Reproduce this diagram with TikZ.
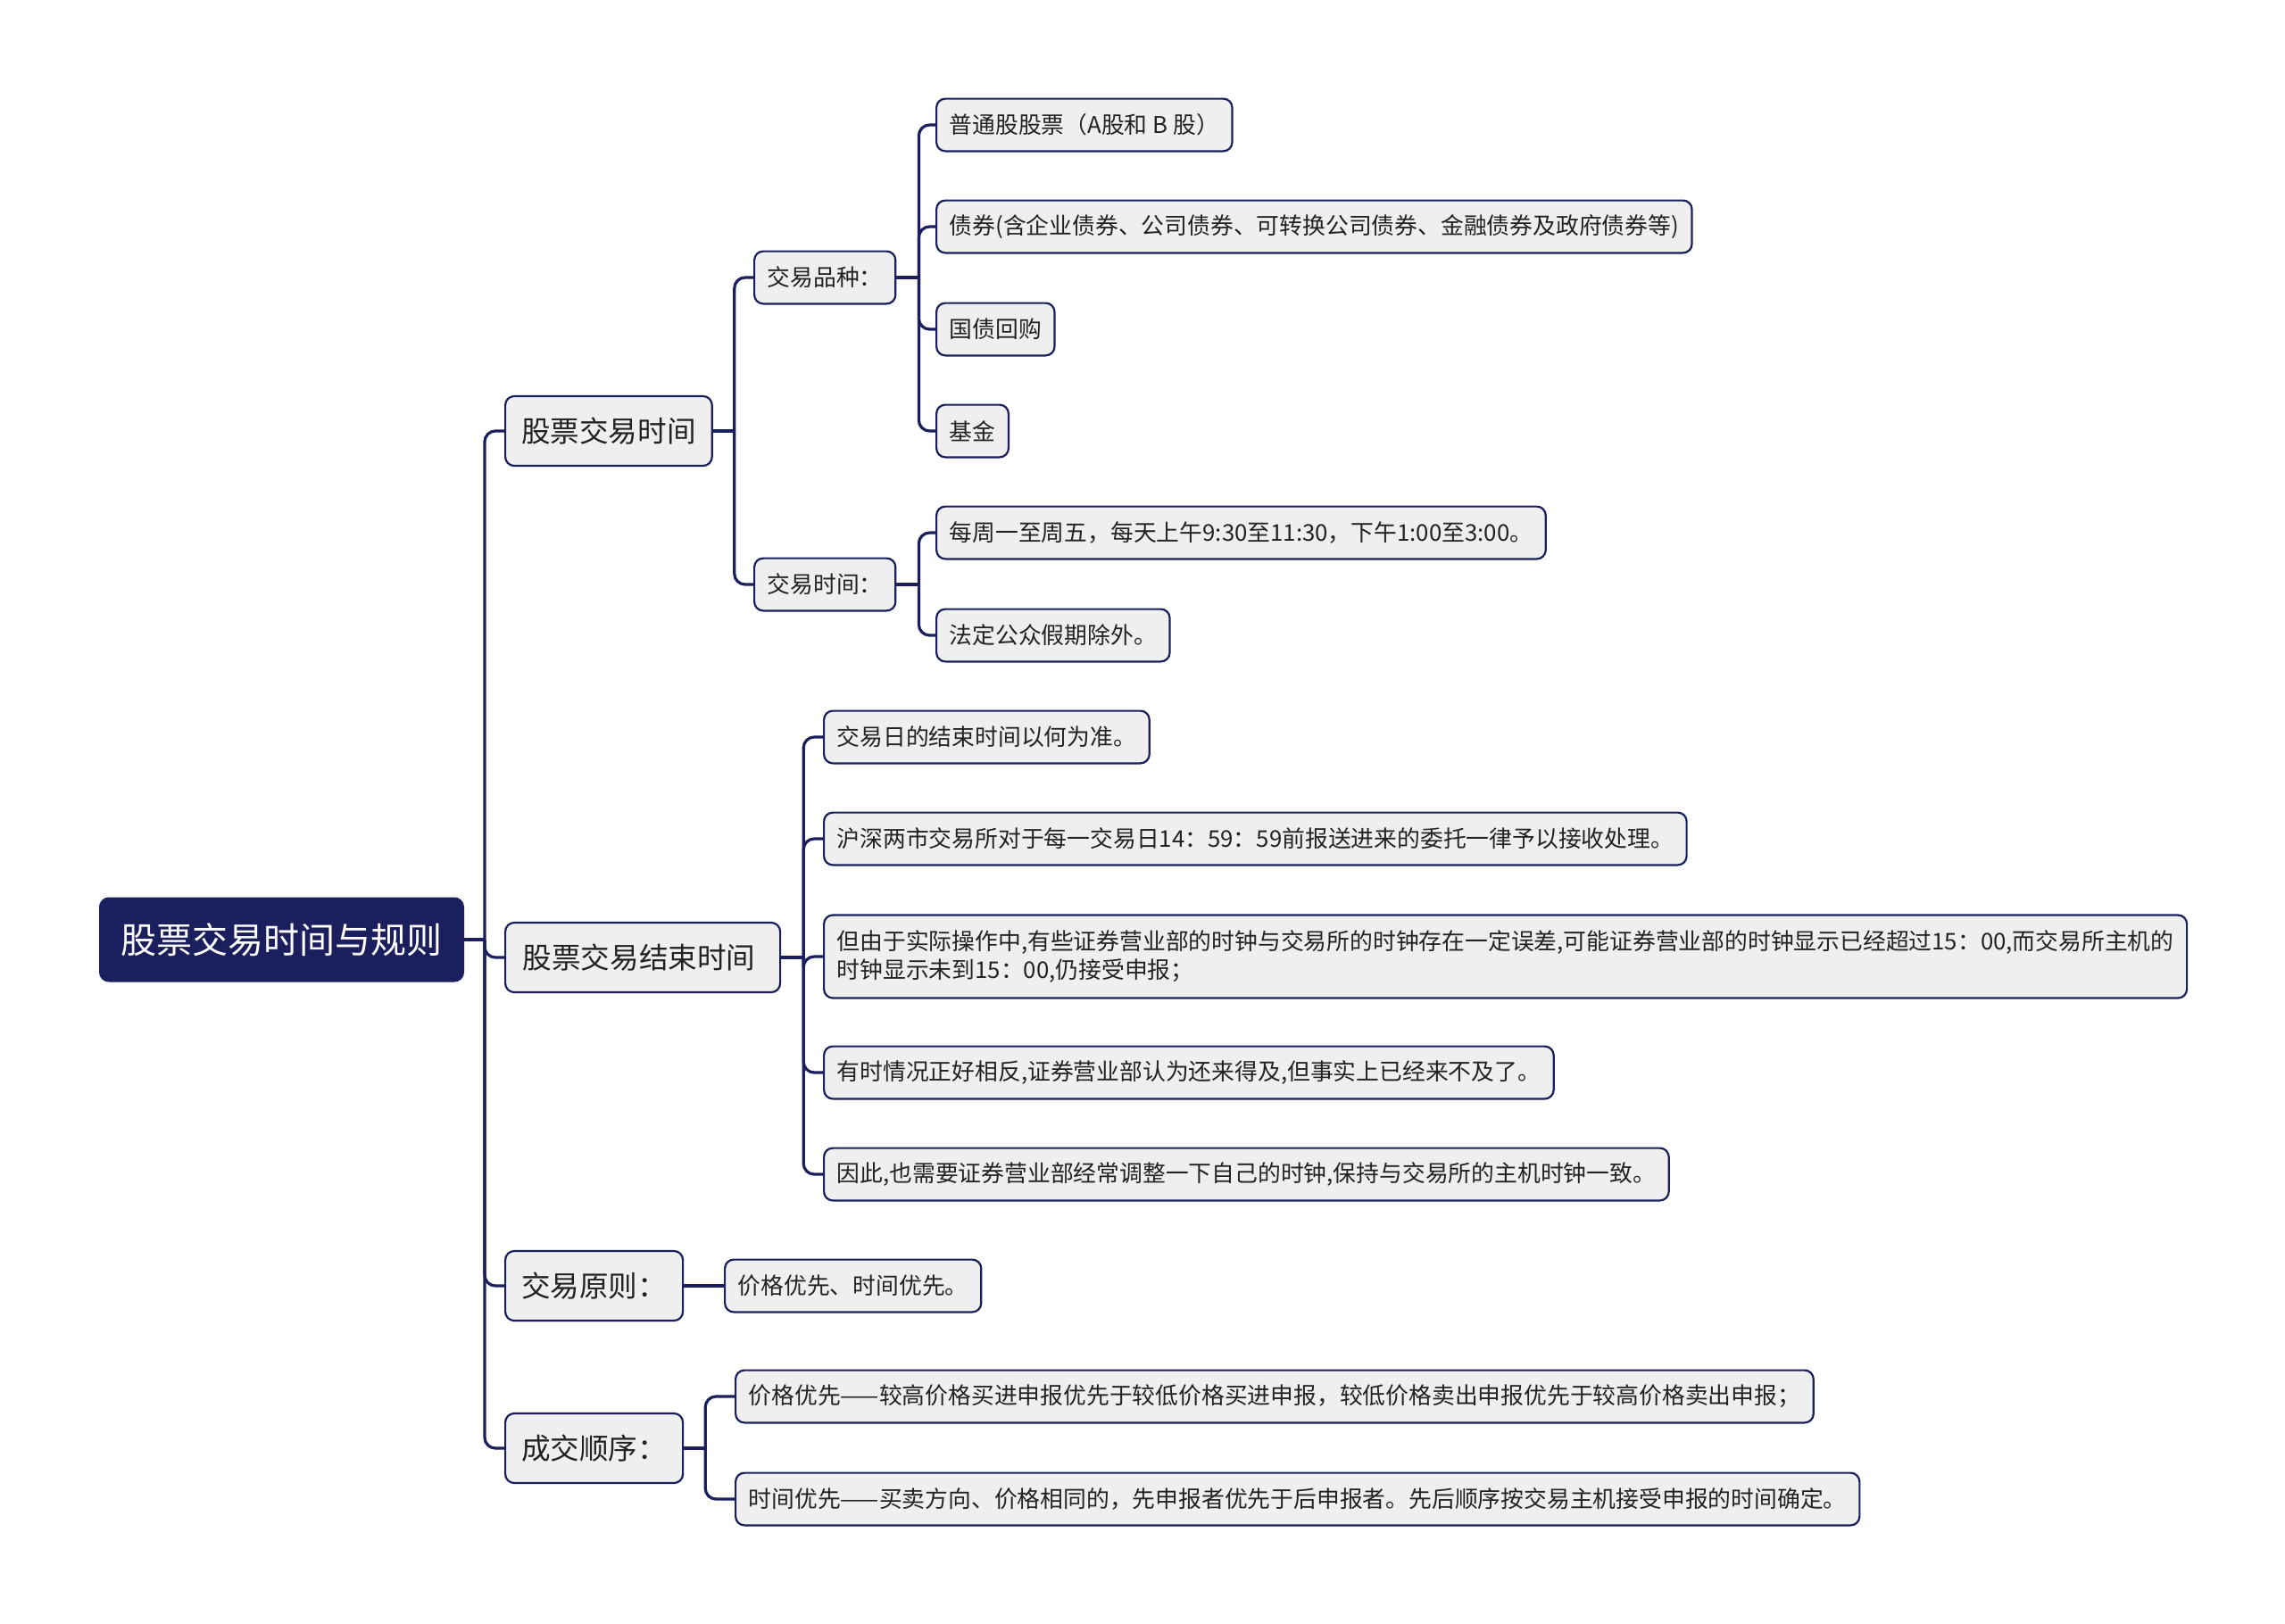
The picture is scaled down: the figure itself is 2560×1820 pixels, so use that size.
\documentclass[tikz,border=0pt]{standalone}
\usepackage{fontspec}
\setmainfont{Noto Sans CJK SC}
\usetikzlibrary{positioning}
\definecolor{navy}{HTML}{1B1F5E}
\definecolor{boxfill}{HTML}{EFEFEF}
\definecolor{ink}{HTML}{222222}

\begin{document}
\begin{tikzpicture}[x=0.5pt, y=-0.5pt,
    rootbox/.style={draw=navy, fill=navy, rounded corners=5pt, text=white, line width=1pt,
        font=\fontsize{20}{24}\selectfont, minimum width=203.5pt, minimum height=46.5pt, anchor=west},
    topicbox/.style={draw=navy, fill=boxfill, rounded corners=5pt, text=ink, line width=1.1pt,
        font=\fontsize{16.3}{19}\selectfont, inner xsep=9pt, minimum height=39pt, anchor=west},
    leafbox/.style={draw=navy, fill=boxfill, rounded corners=5pt, text=ink, line width=1.1pt,
        font=\fontsize{12.9}{16.3}\selectfont, inner xsep=7.3pt, minimum height=29.4pt, anchor=west, align=left},
    link/.style={draw=navy, line width=1.6pt, rounded corners=6pt}]
\useasboundingbox (0,0) rectangle (2560,1820);

\node[rootbox] (root) at (111,1053) {股票交易时间与规则};

\node[topicbox] (jysj) at (565,483) {股票交易时间};
\node[topicbox, minimum width=154pt, align=left] (jssj) at (565,1073) {股票交易结束时间\hspace{4pt}};
\node[topicbox] (jyyz) at (565,1441) {交易原则：};
\node[topicbox] (cjsx) at (565,1623) {成交顺序：};

\node[leafbox] (pz) at (844,311) {交易品种：};
\node[leafbox] (sj) at (844,655) {交易时间：};

\node[leafbox] (ptg) at (1048,140) {普通股股票（A股和 B 股）};
\node[leafbox] (zq) at (1048,254) {债券(含企业债券、公司债券、可转换公司债券、金融债券及政府债券等)};
\node[leafbox] (gzhg) at (1048,369) {国债回购};
\node[leafbox] (jj) at (1048,483) {基金};

\node[leafbox] (mz) at (1048,597) {每周一至周五，每天上午9:30至11:30，下午1:00至3:00。};
\node[leafbox] (fd) at (1048,712) {法定公众假期除外。};

\node[leafbox] (jsr) at (922,826) {交易日的结束时间以何为准。};
\node[leafbox] (hs) at (922,940) {沪深两市交易所对于每一交易日14：59：59前报送进来的委托一律予以接收处理。};
\node[leafbox, minimum height=46.5pt] (wc) at (922,1072) {但由于实际操作中,有些证券营业部的时钟与交易所的时钟存在一定误差,可能证券营业部的时钟显示已经超过15：00,而交易所主机的\\时钟显示未到15：00,仍接受申报；};
\node[leafbox] (xf) at (922,1202) {有时情况正好相反,证券营业部认为还来得及,但事实上已经来不及了。};
\node[leafbox] (tz) at (922,1316) {因此,也需要证券营业部经常调整一下自己的时钟,保持与交易所的主机时钟一致。};

\node[leafbox] (yx) at (811,1441) {价格优先、时间优先。};

\node[leafbox] (jgyx) at (823,1565) {价格优先——较高价格买进申报优先于较低价格买进申报，较低价格卖出申报优先于较高价格卖出申报；};
\node[leafbox] (sjyx) at (823,1680) {时间优先——买卖方向、价格相同的，先申报者优先于后申报者。先后顺序按交易主机接受申报的时间确定。};

\draw[link] (root.east) -- ++(23,0) coordinate (t0);
\draw[link] (t0) |- (jysj.west);
\draw[link] (t0) |- (jssj.west);
\draw[link] (t0) |- (jyyz.west);
\draw[link] (t0) |- (cjsx.west);

\draw[link] (jysj.east) -- ++(24,0) coordinate (b1);
\draw[link] (b1) |- (pz.west);
\draw[link] (b1) |- (sj.west);

\draw[link] (pz.east) -- ++(25,0) coordinate (b2);
\draw[link] (b2) |- (ptg.west);
\draw[link] (b2) |- (zq.west);
\draw[link] (b2) |- (gzhg.west);
\draw[link] (b2) |- (jj.west);

\draw[link] (sj.east) -- ++(25,0) coordinate (b3);
\draw[link] (b3) |- (mz.west);
\draw[link] (b3) |- (fd.west);

\draw[link] (jssj.east) -- ++(25,0) coordinate (b4);
\draw[link] (b4) |- (jsr.west);
\draw[link] (b4) |- (hs.west);
\draw[link] (b4) |- (wc.west);
\draw[link] (b4) |- (xf.west);
\draw[link] (b4) |- (tz.west);

\draw[link] (jyyz.east) -- (yx.west);

\draw[link] (cjsx.east) -- ++(24,0) coordinate (b5);
\draw[link] (b5) |- (jgyx.west);
\draw[link] (b5) |- (sjyx.west);
\end{tikzpicture}
\end{document}
